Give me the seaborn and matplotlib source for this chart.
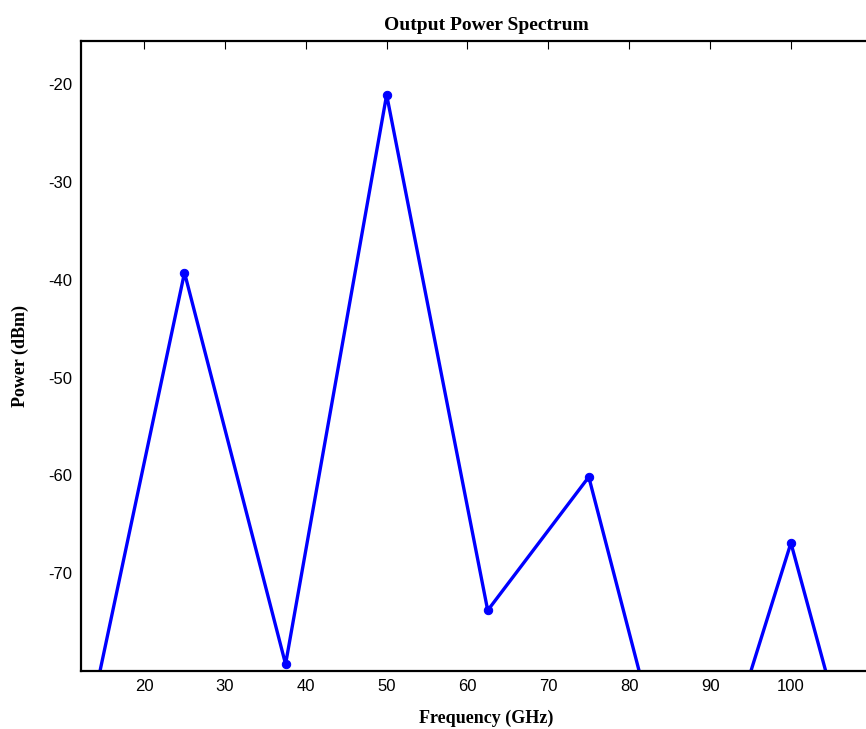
import matplotlib
matplotlib.use("Agg")
import matplotlib.pyplot as plt
import seaborn as sns
import pandas as pd

# Harmonic frequencies (GHz) and measured output power (dBm)
freq_ghz = [12.5, 25.0, 37.5, 50.0, 62.5, 75.0, 87.5, 100.0, 112.5]
power_dbm = [-88.0, -39.25, -79.3, -21.05, -73.8, -60.15, -100.0, -66.9, -105.0]

x_ticks = [20, 30, 40, 50, 60, 70, 80, 90, 100]
y_ticks = [-70, -60, -50, -40, -30, -20]

df = pd.DataFrame({"freq": freq_ghz, "power": power_dbm})

sns.set_style("white")
plt.rcParams["font.family"] = ["Liberation Sans", "DejaVu Sans"]
plt.rcParams["axes.unicode_minus"] = False
plt.rcParams["text.color"] = "black"
plt.rcParams["axes.labelcolor"] = "black"

fig = plt.figure(figsize=(8.66, 7.29), dpi=100)
ax = fig.add_axes([81 / 866, 58 / 729, 811 / 866, 630 / 729])

sns.lineplot(data=df, x="freq", y="power", ax=ax, color="#0000ff",
             linewidth=2.4, marker="o", markersize=6,
             markeredgecolor="#0000ff", markerfacecolor="#0000ff")

ax.set_xlim(12.2, 112.5)
ax.set_ylim(-80, -15.55)
ax.set_xticks(x_ticks)
ax.set_yticks(y_ticks)
ax.tick_params(direction="in", length=6, width=0.8, top=True, right=True,
               labelsize=12, colors="black", pad=6)
for s in ax.spines.values():
    s.set_color("black")
    s.set_linewidth(1.6)

serif = ["Liberation Serif", "DejaVu Serif"]
ax.set_title("Output Power Spectrum", family=serif, fontweight="bold",
             fontsize=14, pad=8, color="black")
ax.set_xlabel("Frequency (GHz)", family=serif, fontweight="bold",
              fontsize=13, labelpad=11, color="black")
ax.set_ylabel("Power (dBm)", family=serif, fontweight="bold",
              fontsize=13, labelpad=14, color="black")

fig.savefig("out.png", dpi=100)
